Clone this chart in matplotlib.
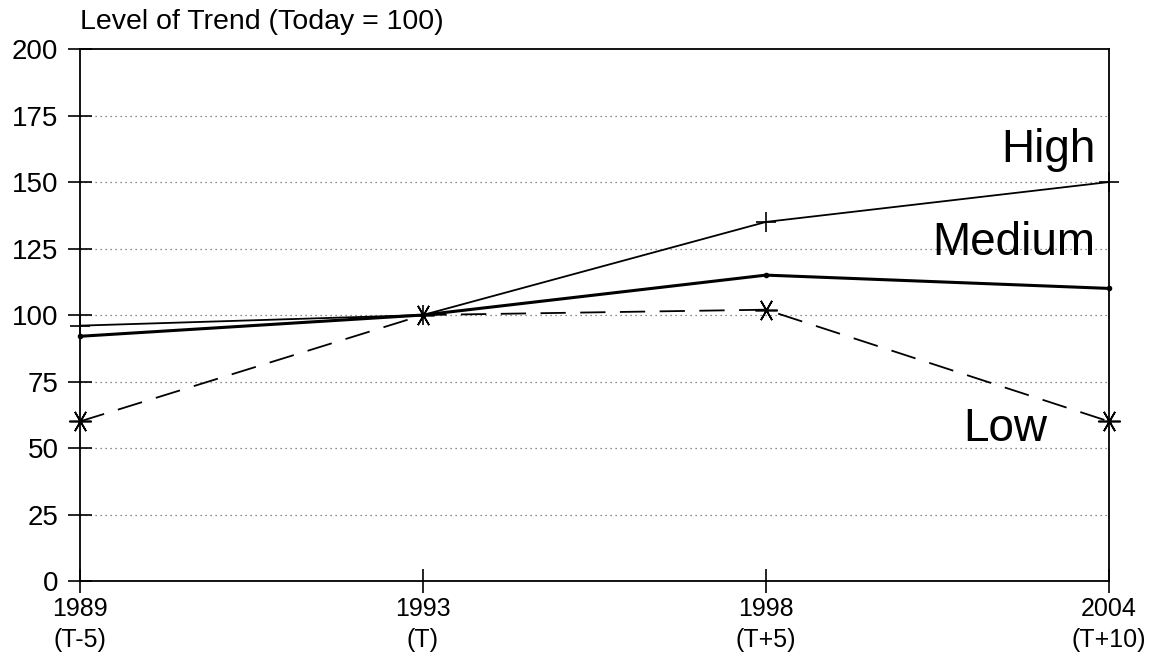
import matplotlib
matplotlib.use("Agg")
import matplotlib.pyplot as plt

plt.rcParams['font.family'] = ['Liberation Sans', 'DejaVu Sans']

# --- Dati ---
years = ["1989", "1993", "1998", "2004"]
periods = ["(T-5)", "(T)", "(T+5)", "(T+10)"]
high = [96, 100, 135, 150]
medium = [92, 100, 115, 110]
low = [60, 100, 102, 60]
yticks = [0, 25, 50, 75, 100, 125, 150, 175, 200]

x = list(range(len(years)))
xlabels = [y + "\n" + p for y, p in zip(years, periods)]

fig = plt.figure(figsize=(11.52, 6.66), dpi=100)
ax = fig.add_axes([0.0694, 0.1276, 0.8933, 0.7988])

# griglia punteggiata
for v in yticks[1:-1]:
    ax.axhline(v, color="#666666", lw=0.9, ls=(0, (1, 3)), zorder=0)

ax.plot(x, high, color="black", lw=1.3, marker="+", markersize=14, mew=1.2, clip_on=False)
ax.plot(x, medium, color="black", lw=2.2, marker="o", markersize=3, clip_on=False)
ax.plot(x, low, color="black", lw=1.3, ls=(0, (14, 8)),
        marker=(6, 2, 90), markersize=16, mew=1.2, clip_on=False)

# etichette serie
ax.text(2.96, 157.5, "High", fontsize=33, ha="right", va="baseline")
ax.text(2.96, 122.5, "Medium", fontsize=33, ha="right", va="baseline")
ax.text(2.82, 52.5, "Low", fontsize=33, ha="right", va="baseline")

ax.set_xlim(0, 3)
ax.set_ylim(0, 200)
ax.set_yticks(yticks)
ax.set_xticks(x)
ax.set_xticklabels(xlabels, fontsize=18, linespacing=1.35)
ax.tick_params(axis="y", labelsize=20, direction="inout", length=17, width=1.2, pad=7)
ax.tick_params(axis="x", direction="inout", length=17, width=1.2, pad=3)

for s in ax.spines.values():
    s.set_linewidth(1.3)

fig.text(0.0694, 1 - 22 / 666, "Level of Trend (Today = 100)", fontsize=20.5,
         ha="left", va="center")

fig.savefig("out.png", dpi=100)
